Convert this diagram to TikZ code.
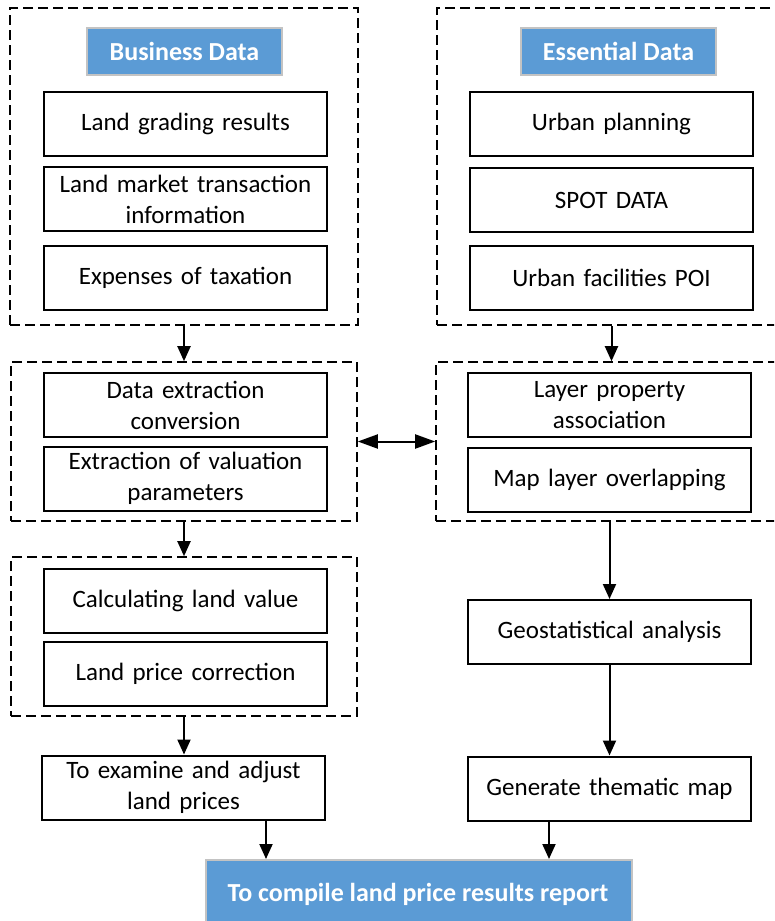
\documentclass[tikz,border=0pt]{standalone}
\usepackage{fontspec}
\setmainfont{Carlito}
\usetikzlibrary{arrows.meta,calc}
\definecolor{hdrblue}{RGB}{91,155,213}
\definecolor{hdrborder}{RGB}{195,195,195}
\tikzset{
  grp/.style={draw=black,line width=1.6pt,dash pattern=on 10pt off 5pt,minimum width=#1,inner sep=0pt},
  stepbox/.style={draw=black,line width=2pt,fill=white,minimum width=283pt,minimum height=64pt,inner sep=2pt,align=center,text width=279pt,font=\fontsize{25}{31}\selectfont},
  hdr/.style={draw=hdrborder,line width=1.5pt,fill=hdrblue,text=white,font=\fontsize{26}{30}\selectfont\bfseries,inner sep=0pt},
  arr/.style={draw=black,line width=2pt,-{Triangle[length=15pt,width=13pt]}},
  darr/.style={draw=black,line width=2pt,{Triangle[length=20pt,width=14pt]}-{Triangle[length=20pt,width=14pt]}}
}
\begin{document}
\begin{tikzpicture}[x=1pt,y=-1pt]
\useasboundingbox (0,0) rectangle (774,921);
\clip (0,0) rectangle (774,921);
% groups
\node[grp=348pt,minimum height=317pt] (bdgrp) at (184,166.5) {};
\node[grp=353pt,minimum height=317pt] (edgrp) at (613.5,166.5) {};
\node[grp=346pt,minimum height=159pt] (bd2) at (184,441.5) {};
\node[grp=354pt,minimum height=159pt] (ed2) at (613,441.5) {};
\node[grp=346pt,minimum height=159pt] (bd3) at (184,636.5) {};
% headers
\node[hdr,minimum width=195pt,minimum height=47pt] (bdh) at (184.5,51.5) {Business Data};
\node[hdr,minimum width=195pt,minimum height=47pt] (edh) at (618.5,51.5) {Essential Data};
% left column
\node[stepbox] (lg) at (185.5,124) {Land grading results};
\node[stepbox] (lm) at (185.5,199) {Land market transaction\\information};
\node[stepbox] (ex) at (185.5,277.5) {Expenses of taxation};
\node[stepbox] (de) at (185.5,405) {Data extraction\\conversion};
\node[stepbox] (ev) at (185.5,478.5) {Extraction of valuation\\parameters};
\node[stepbox] (cl) at (185.5,601) {Calculating land value};
\node[stepbox] (pc) at (185.5,674) {Land price correction};
\node[stepbox] (te) at (183.5,787.5) {To examine and adjust\\land prices};
% right column
\node[stepbox] (up) at (611.5,124) {Urban planning};
\node[stepbox] (sp) at (611.5,200) {SPOT DATA};
\node[stepbox] (poi) at (611.5,277.5) {Urban facilities POI};
\node[stepbox] (lp) at (609.5,405) {Layer property\\association};
\node[stepbox] (ml) at (609.5,479.5) {Map layer overlapping};
\node[stepbox] (ga) at (609.5,632) {Geostatistical analysis};
\node[stepbox] (gt) at (609.5,788.5) {Generate thematic map};
% final
\node[hdr,minimum width=426pt,minimum height=76pt,anchor=north west] (fin) at (205,859) {};
\node[text=white,font=\fontsize{26}{30}\selectfont\bfseries,anchor=center] (fint) at (418,894) {To compile land price results report};
\path (fin.north west) ++(61,0) coordinate (f1);
\path (fin.north west) ++(344,0) coordinate (f2);
% connectors
\draw[arr] (bdgrp.south) -- (bd2.north);
\draw[arr] (edgrp.south -| up.south) -- (ed2.north -| up.south);
\draw[darr] (bd2.east) -- (ed2.west);
\draw[arr] (bd2.south) -- (bd3.north);
\draw[arr] (bd3.south) -- (bd3.south |- te.north);
\draw[arr] (ed2.south -| ga.north) -- (ga.north);
\draw[arr] (ga.south) -- (gt.north);
\draw[arr] (te.south -| f1) -- (f1);
\draw[arr] (gt.south -| f2) -- (f2);
\end{tikzpicture}
\end{document}
